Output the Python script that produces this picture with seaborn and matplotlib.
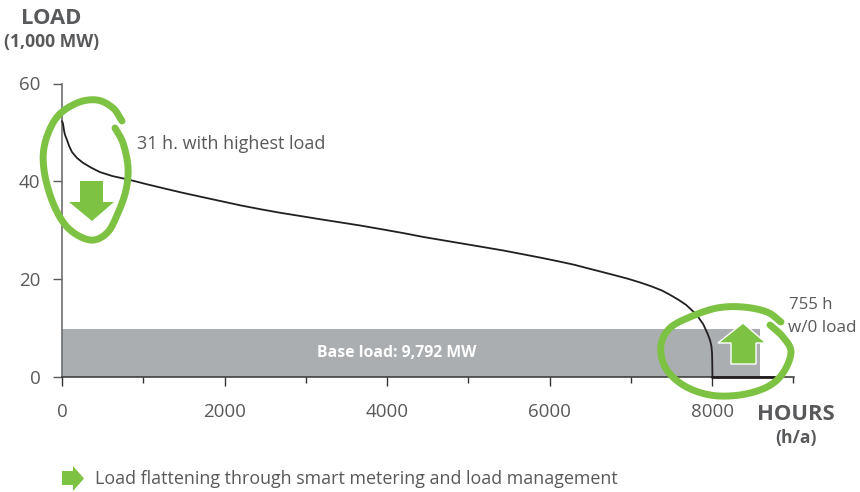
import matplotlib
matplotlib.use("Agg")
import matplotlib.pyplot as plt
from matplotlib.lines import Line2D
from matplotlib.patches import Polygon
from matplotlib.transforms import Affine2D
import numpy as np
import pandas as pd
import seaborn as sns

# Load duration curve: hours of the year against load in 1,000 MW
hours = [0, 6, 12, 18, 25, 37, 61, 86, 123, 184, 258, 360, 468, 620, 837, 1050, 1250, 1480,
         1700, 1950, 2200, 2450, 2685, 2930, 3170, 3420, 3670, 3930, 4200, 4450, 4700, 4950,
         5200, 5430, 5650, 5900, 6133, 6300, 6450, 6626, 6800, 6960, 7118, 7250, 7380, 7488,
         7590, 7680, 7771, 7830, 7890, 7943, 7975, 7992, 8000, 8003, 8005]
load = [52.3, 52.1, 51.8, 51.2, 50.4, 49.5, 48.5, 47.3, 46.0, 44.8, 43.8, 42.8, 41.9, 41.1,
        40.3, 39.4, 38.6, 37.7, 36.9, 36.0, 35.1, 34.3, 33.6, 32.95, 32.3, 31.65, 31.0, 30.25,
        29.45, 28.65, 27.95, 27.25, 26.55, 25.9, 25.2, 24.4, 23.6, 23.0, 22.35, 21.6, 20.85,
        20.15, 19.35, 18.6, 17.75, 16.8, 15.8, 14.8, 13.4, 12.3, 10.9, 9.0, 7.6, 6.4, 5.0, 3.0, 0.0]
zero_hours = [8005, 8760]
zero_load = [0, 0]
base_load = 9.792
base_end = 8590
x_major = [0, 2000, 4000, 6000, 8000]
x_minor = [1000, 3000, 5000, 7000, 9000]
y_major = [0, 20, 40, 60]

GREEN = "#7DC242"
TEXT = "#58595B"

sns.set_style("white")
plt.rcParams["font.family"] = ["Open Sans", "DejaVu Sans"]

fig = plt.figure(figsize=(8.6, 4.92), dpi=100)
ax = fig.add_axes([62 / 860, 1 - 377.3 / 492, (794.5 - 62) / 860, (377.3 - 83.5) / 492])
ax.set_xlim(0, 9015)
ax.set_ylim(0, 60)

# Base load band
ax.fill_between([0, base_end], 0, base_load, color="#ABAEB1", lw=0, zorder=1)
ax.text(4120, base_load / 2, "Base load: 9,792 MW", color="white", fontsize=11.3,
        fontweight="bold", ha="center", va="center", zorder=2)

# Duration curve and the zero-load stretch
sns.lineplot(data=pd.DataFrame({"h": hours, "l": load}), x="h", y="l", ax=ax,
             color="#231F20", lw=1.3, zorder=3, clip_on=False, errorbar=None,
             estimator=None, sort=False)
sns.lineplot(data=pd.DataFrame({"h": zero_hours, "l": zero_load}), x="h", y="l", ax=ax,
             color="#231F20", lw=2.0, zorder=3, clip_on=False, errorbar=None,
             estimator=None, sort=False)

# Axis styling
ax.set_xlabel("")
ax.set_ylabel("")
ax.set_xticks(x_major)
ax.set_xticks(x_minor, minor=True)
ax.set_yticks(y_major)
ax.tick_params(axis="x", which="major", length=6.5, width=1, color="#333333", pad=12,
               labelsize=13.5, labelcolor=TEXT, bottom=True)
ax.tick_params(axis="x", which="minor", length=4.5, width=1, color="#333333", bottom=True)
ax.tick_params(axis="y", which="major", length=6.5, width=1, color="#58595B", pad=9,
               labelsize=13.5, labelcolor=TEXT, left=True)
for side in ("top", "right"):
    ax.spines[side].set_visible(False)
ax.spines["left"].set_color("#6D6E70")
ax.spines["left"].set_linewidth(1.2)
ax.spines["left"].set_zorder(2)
ax.spines["bottom"].set_color("#333333")
ax.spines["bottom"].set_linewidth(1.1)


# Pixel-based overlay for the hand-drawn callouts
pixels = Affine2D().scale(1, -1).translate(0, 492)


def smooth(points, steps=16):
    """Catmull-Rom spline through an open list of points."""
    p = np.array(points, dtype=float)
    p = np.vstack([2 * p[0] - p[1], p, 2 * p[-1] - p[-2]])
    out = []
    for i in range(1, len(p) - 2):
        for t in np.linspace(0, 1, steps, endpoint=False):
            out.append(0.5 * (2 * p[i] + (p[i + 1] - p[i - 1]) * t
                              + (2 * p[i - 1] - 5 * p[i] + 4 * p[i + 1] - p[i + 2]) * t ** 2
                              + (3 * p[i] - p[i - 1] - 3 * p[i + 1] + p[i + 2]) * t ** 3))
    out.append(p[-2])
    return np.array(out)


loop_peak = [(122, 121), (113, 108), (97, 100), (77, 103), (57, 117), (45, 143), (44, 170),
             (53, 203), (68, 228), (90, 240), (107, 233), (118, 213), (126, 190), (128, 167),
             (123, 143), (115, 128)]
loop_zero = [(781, 322), (767, 312), (743, 307), (717, 308), (690, 317), (670, 328), (661, 345),
             (665, 367), (683, 385), (710, 395), (740, 395), (767, 387), (783, 373), (791, 352),
             (783, 337), (770, 325)]
for loop in (loop_peak, loop_zero):
    xy = smooth(loop)
    fig.add_artist(Line2D(xy[:, 0], xy[:, 1], transform=pixels, color=GREEN, lw=5,
                          solid_capstyle="round", zorder=5))

arrow_down = [(80, 181), (103, 181), (103, 202), (114, 202), (92, 221), (69, 202), (80, 202)]
arrow_up = [(743, 323), (766, 343), (756, 343), (756, 364), (731, 364), (731, 343), (718, 343)]
arrow_key = [(62, 471), (73, 471), (73, 466), (84, 478.5), (73, 491), (73, 485), (62, 485)]
for shape, edge in ((arrow_down, "none"), (arrow_up, "white"), (arrow_key, "none")):
    fig.add_artist(Polygon(shape, closed=True, transform=pixels, facecolor=GREEN,
                           edgecolor=edge, lw=1, zorder=6))


# Annotation and axis-title text
def label(px, py, s, size=12.9, weight="normal", ha="left"):
    fig.text(px / 860, 1 - py / 492, s, fontsize=size, fontweight=weight, color=TEXT,
             ha=ha, va="center", zorder=7)


label(51, 18, "LOAD", 15.8, "bold", "center")
label(52, 42, "(1,000 MW)", 12.6, "bold", "center")
label(796, 414, "HOURS", 15.8, "bold", "center")
label(796, 438, "(h/a)", 12.6, "bold", "center")
label(137, 144, "31 h. with highest load", 13.0)
label(789, 305, "755 h", 12.1)
label(788, 328, "w/0 load", 12.3)
label(95, 479, "Load flattening through smart metering and load management", 12.9)

fig.savefig("out.png", dpi=100, facecolor="white")
